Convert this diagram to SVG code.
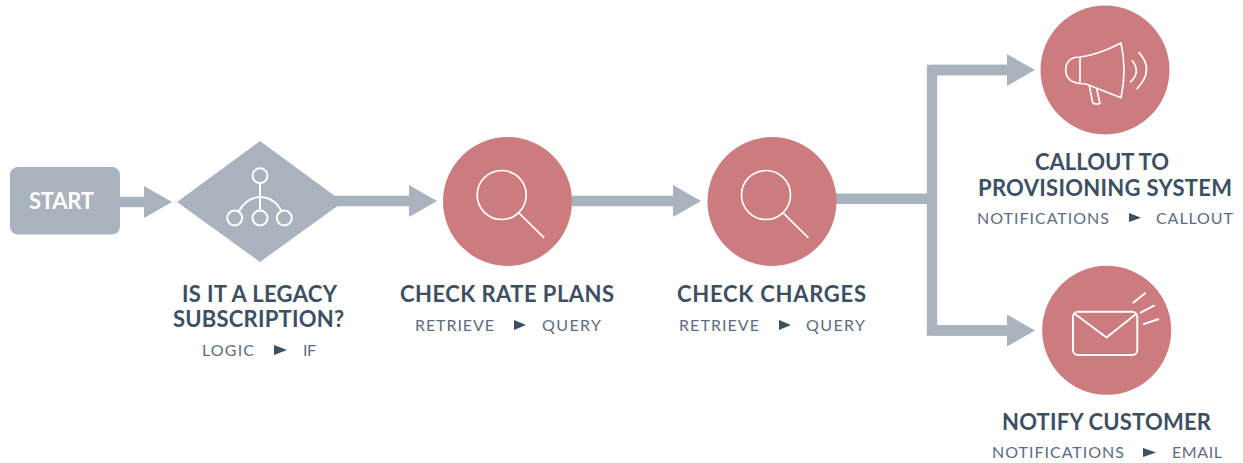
<svg xmlns="http://www.w3.org/2000/svg" width="1243" height="463" viewBox="0 0 1243 463">
<style>
text{font-family:Lato,"Open Sans","Liberation Sans",sans-serif}
.t{font-size:22px;font-weight:700;fill:#3d4f63}
.s{font-size:16px;font-weight:400;fill:#5d6c7f}
.c{fill:#cc7b7e}
.g{fill:#a8b3be}
.k{fill:#3d4f63}
.w{fill:none;stroke:#fff;stroke-width:1.7;stroke-linecap:round;stroke-linejoin:round}
.l{fill:none;stroke:#a8b3be;stroke-width:10.4;marker-end:url(#a)}
.n{fill:none;stroke:#a8b3be;stroke-width:10.4}
</style>
<defs>
<marker id="a" markerUnits="userSpaceOnUse" markerWidth="28" markerHeight="32" refX="0" refY="16" orient="auto" viewBox="0 0 28 32"><path d="M0 0L28 16L0 32Z" fill="#a8b3be"/></marker>
</defs>
<rect width="1243" height="463" fill="#fff"/>
<g id="connectors">
<path class="l" d="M120 202H144"/>
<path class="l" d="M330 201H409"/>
<path class="l" d="M572 201H673"/>
<path class="n" d="M836 198.700H932"/>
<path class="n" d="M1007 70H932V330.500H1007"/>
<path class="l" d="M932 70H1007"/>
<path class="l" d="M932 330.500H1007"/>
</g>
<g id="start">
<rect x="10" y="167" width="110" height="67.500" rx="8" class="g"/>
<text x="29" y="208.500" textLength="65" style="font-size:22px;font-weight:700;fill:#fff">START</text>
</g>
<g id="legacy">
<path class="g" d="M177 202L260 141L343 202L260 262Z"/>
<g class="w" style="stroke-width:2">
<circle cx="260" cy="175.700" r="7.500"/><circle cx="234.700" cy="218" r="7.500"/><circle cx="260" cy="218" r="7.500"/><circle cx="284.300" cy="218" r="7.500"/>
<path d="M260 183.200V210.500M239 211.500Q246 197.500 260 197Q275 197.500 281.500 211.500"/>
</g>
<text class="t" x="182" y="301.700" textLength="155">IS IT A LEGACY</text>
<text class="t" x="173" y="326.700" textLength="171">SUBSCRIPTION?</text>
<text class="s" x="202" y="356" textLength="52">LOGIC</text>
<path class="k" d="M274 345L287 350L274 355Z"/>
<text class="s" x="303" y="356" textLength="13">IF</text>
</g>
<g id="rateplans">
<circle class="c" cx="507.500" cy="201.500" r="64.500"/>
<circle class="w" cx="501.700" cy="195" r="24.500"/>
<path class="w" d="M519.300 213.300L543.700 237.300"/>
<text class="t" x="400" y="301.700" textLength="214">CHECK RATE PLANS</text>
<text class="s" x="415" y="331" textLength="79">RETRIEVE</text>
<path class="k" d="M514 320L526 325L514 330Z"/>
<text class="s" x="542" y="331" textLength="59">QUERY</text>
</g>
<g id="charges">
<circle class="c" cx="772" cy="201.500" r="64.500"/>
<circle class="w" cx="766" cy="195" r="24.500"/>
<path class="w" d="M783.600 213.300L808 237.300"/>
<text class="t" x="677" y="301.700" textLength="189">CHECK CHARGES</text>
<text class="s" x="679" y="331" textLength="80">RETRIEVE</text>
<path class="k" d="M779 320L791 325L779 330Z"/>
<text class="s" x="806" y="331" textLength="59">QUERY</text>
</g>
<g id="callout">
<circle class="c" cx="1105" cy="70" r="64.500"/>
<path class="w" d="M1080 57Q1098 55 1121 43Q1127 70 1121 97.700L1086 84L1080 83.500Q1066 82 1065.700 70Q1066 57 1080 57ZM1080 57V83.500M1089.500 86.500L1092.500 102Q1093.500 105 1100 103.500L1096.700 89M1132.300 60.700Q1141 72 1130.700 81.700M1139 52.700Q1155 70 1137 88.700"/>
<text class="t" x="1035" y="169.500" textLength="134">CALLOUT TO</text>
<text class="t" x="978" y="195.500" textLength="254">PROVISIONING SYSTEM</text>
<text class="s" x="977" y="223.500" textLength="132">NOTIFICATIONS</text>
<path class="k" d="M1129 213L1141 217.700L1129 222Z"/>
<text class="s" x="1156" y="223.500" textLength="77">CALLOUT</text>
</g>
<g id="notify">
<circle class="c" cx="1106.700" cy="330.300" r="64.500"/>
<g class="w" style="stroke-width:2">
<rect x="1073" y="311.700" width="64.300" height="43.300" rx="5"/>
<path d="M1075 314L1106.500 337.500L1136 314M1133.300 302.700L1145 293.300M1140.700 312.700L1154 305.700M1144 324L1158.300 319.300"/>
</g>
<text class="t" x="1002" y="430" textLength="209">NOTIFY CUSTOMER</text>
<text class="s" x="992" y="458" textLength="132">NOTIFICATIONS</text>
<path class="k" d="M1143 448L1156 452.500L1143 457Z"/>
<text class="s" x="1172" y="458" textLength="50">EMAIL</text>
</g>
</svg>
